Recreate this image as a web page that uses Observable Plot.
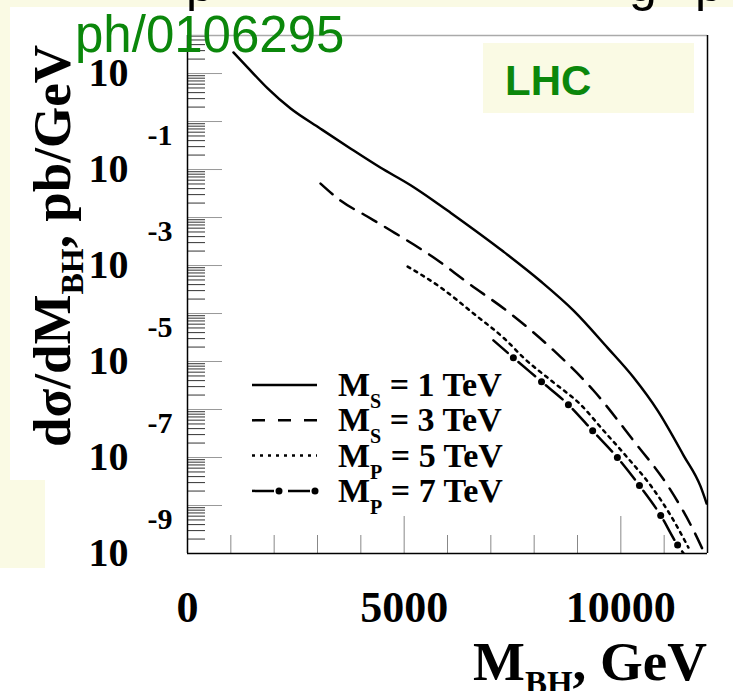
<!DOCTYPE html>
<html><head><meta charset="utf-8">
<script src="https://cdn.jsdelivr.net/npm/d3@7"></script>
<script src="https://cdn.jsdelivr.net/npm/@observablehq/plot@0.6"></script>
<style>
html,body{margin:0;padding:0;background:#fff;}
#wrap{position:relative;width:733px;height:691px;overflow:hidden;}
</style></head><body><div id="wrap"></div>
<script>
// ---- data ----
const xMS1 = [1060, 1390, 1850, 2380, 3070, 3760, 4450, 5150, 5680, 6070, 7290, 8150, 8910, 9690, 10290, 10850, 11450, 11840, 11980];
const yMS1 = [27.5, 13.3, 4.9, 1.86, 0.71, 0.275, 0.11, 0.047, 0.0224, 0.0126, 1.95e-3, 4.7e-4, 1.15e-4, 1.95e-5, 4.7e-6, 9.5e-7, 1.1e-7, 2.5e-8, 1.1e-8];
const xMS3 = [3070, 3530, 4150, 4690, 5220, 5680, 6460, 7450, 8450, 9370, 10290, 11080, 11680, 11910];
const yMS3 = [0.051, 0.0226, 0.0105, 5.37e-3, 2.74e-3, 1.47e-3, 4.42e-4, 1.0e-4, 1.7e-5, 2.49e-6, 2.26e-7, 2.61e-8, 3.0e-9, 1.1e-9];
const xMP5 = [5080, 5840, 6600, 7360, 7750, 8420, 9070, 9600, 10150, 10690, 11150, 11560];
const yMP5 = [9.5e-4, 3.5e-4, 1.0e-4, 2.74e-5, 1.21e-5, 3.83e-6, 1.27e-6, 3.65e-7, 1.0e-7, 2.6e-8, 6.2e-9, 1.33e-9];
const xMP7 = [7060, 7520, 8170, 8790, 9350, 9920, 10430, 10920, 11310, 11450];
const yMP7 = [2.75e-5, 1.2e-5, 3.8e-6, 1.26e-6, 3.6e-7, 1.0e-7, 2.6e-8, 6.2e-9, 1.5e-9, 1.0e-9];

const seriesNames = [["M", "S", " = 1 TeV"], ["M", "S", " = 3 TeV"], ["M", "P", " = 5 TeV"], ["M", "P", " = 7 TeV"]];
const yExponents = [-9, -7, -5, -3, -1];
const yLabelDecades = [-9, -7, -5, -3, -1, 1];
const xLabels = [0, 5000, 10000];
const xMajorTicks = [5000, 10000];
const xMinorTicks = [1000, 2000, 3000, 4000, 6000, 7000, 8000, 9000, 11000];
const yDomain = [1e-9, 62];
const xDomain = [0, 12000];

// ---- derived tables ----
const tbl = (xs, ys) => xs.map((x, i) => ({x, y: ys[i]}));
const ms1 = tbl(xMS1, yMS1), ms3 = tbl(xMS3, yMS3), mp5 = tbl(xMP5, yMP5), mp7 = tbl(xMP7, yMP7);
const decades = d3.range(-9, 2);
const yMajorTicks = decades.map(e => Math.pow(10, e));
const yMinorTicks = decades.flatMap(e => d3.range(2, 10).map(k => k * Math.pow(10, e))).filter(v => v < yDomain[1]);

const serif = "'Liberation Serif', 'Times New Roman', serif";
const sans = "'Liberation Sans', Arial, sans-serif";
const green = "#0b870b";

const chart = Plot.plot({
  width: 733, height: 691,
  marginLeft: 187, marginRight: 26, marginTop: 35, marginBottom: 138,
  style: {background: "transparent", fontFamily: serif, overflow: "visible", color: "black"},
  x: {domain: xDomain},
  y: {type: "log", domain: yDomain},
  marks: [
    Plot.axisY(yMinorTicks, {tickSize: 18, dx: 18, fill: "none", stroke: "#333", label: null}),
    Plot.axisY(yMajorTicks, {tickSize: 35, dx: 35, fill: "none", stroke: "#999", label: null}),
    Plot.axisY(yLabelDecades.map(e => Math.pow(10, e)), {tickSize: 0, tickPadding: 59, tickFormat: () => "10", fontSize: 40, fontWeight: "bold", dy: 0, label: null}),
    Plot.text(yExponents, {x: 0, y: d => Math.pow(10, d), text: d => String(d), dx: -40, dy: -34, textAnchor: "start", fontSize: 30, fontWeight: "bold", fill: "black"}),
    Plot.axisX(xMinorTicks, {tickSize: 18, dy: -18, fill: "none", stroke: "#888", label: null}),
    Plot.axisX(xMajorTicks, {tickSize: 37, dy: -37, fill: "none", stroke: "#888", label: null}),
    Plot.axisX(xLabels, {tickSize: 0, tickPadding: 37, tickFormat: d => String(d), fontSize: 44, fontWeight: "bold", label: null}),
    Plot.ruleY([yDomain[1]], {stroke: "#aaa", strokeWidth: 1.5}),
    Plot.ruleX(xDomain, {stroke: "black", strokeWidth: 1.5}),
    Plot.ruleY([yDomain[0]], {stroke: "black", strokeWidth: 1.5}),
    Plot.line(ms1, {x: "x", y: "y", stroke: "black", strokeWidth: 2.5, curve: "monotone-x", clip: true}),
    Plot.line(ms3, {x: "x", y: "y", stroke: "black", strokeWidth: 2.5, strokeDasharray: "16,10", curve: "monotone-x", clip: true}),
    Plot.line(mp5, {x: "x", y: "y", stroke: "black", strokeWidth: 2.5, strokeDasharray: "3,5", curve: "monotone-x", clip: true}),
    Plot.line(mp7, {x: "x", y: "y", stroke: "black", strokeWidth: 2.5, strokeDasharray: "22,14", strokeDashoffset: 3, curve: "monotone-x", clip: true}),
    Plot.dot(mp7.slice(1, -1), {x: "x", y: "y", r: 3.5, fill: "black", stroke: "none"})
  ]
});

document.getElementById("wrap").appendChild(chart);
const svg = d3.select(chart);

// background decorations (slide remnants)
const bg = svg.insert("g", ":first-child");
const pale = "#fafae4";
bg.append("rect").attr("x", 0).attr("y", 0).attr("width", 733).attr("height", 7).attr("fill", pale);
bg.append("rect").attr("x", 0).attr("y", 0).attr("width", 10).attr("height", 480).attr("fill", pale);
bg.append("rect").attr("x", 0).attr("y", 480).attr("width", 45).attr("height", 88).attr("fill", pale);
bg.append("rect").attr("x", 483).attr("y", 43).attr("width", 211).attr("height", 70).attr("fill", pale);

const fg = svg.append("g").attr("text-anchor", "start");
// fragments of a slide title above the picture (only descenders visible)
[["p", 186], ["g", 629], ["p", 695]].forEach(([ch, x]) =>
  fg.append("text").attr("x", x).attr("y", 1).attr("font-family", sans).attr("font-size", 50)
    .attr("fill", "black").attr("text-anchor", "start").text(ch));
// LHC label
fg.append("text").attr("x", 505).attr("y", 95).attr("font-family", sans).attr("font-weight", "bold")
  .attr("font-size", 42).attr("fill", green).attr("text-anchor", "start").text("LHC");
// arXiv id overlay
fg.append("text").attr("x", 75).attr("y", 52).attr("font-family", sans)
  .attr("font-size", 51).attr("fill", green).attr("text-anchor", "start").text("ph/0106295");

// x-axis title
const xt = fg.append("text").attr("x", 707).attr("y", 680).attr("text-anchor", "end")
  .attr("font-family", serif).attr("font-weight", "bold").attr("font-size", 55).attr("fill", "black");
xt.append("tspan").text("M");
xt.append("tspan").attr("font-size", 33).attr("dy", 14).text("BH");
xt.append("tspan").attr("dy", -14).text(", GeV");

// y-axis title
const yt = fg.append("text").attr("transform", "translate(70,447) rotate(-90)").attr("text-anchor", "start")
  .attr("font-family", serif).attr("font-weight", "bold").attr("font-size", 53).attr("fill", "black");
yt.append("tspan").text("dσ/dM");
yt.append("tspan").attr("font-size", 32).attr("dy", 13).text("BH");
yt.append("tspan").attr("dy", -13).text(", pb/GeV");

// legend
const leg = fg.append("g");
const styles = [
  {dash: null, dots: false},
  {dash: "13,13", dots: false},
  {dash: "3,5", dots: false},
  {dash: "22,14", dots: true}
];
seriesNames.forEach((nm, i) => {
  const cy = 385 + i * 35.3;
  const st = styles[i];
  const ln = leg.append("line").attr("x1", 252).attr("x2", 317).attr("y1", cy).attr("y2", cy)
    .attr("stroke", "black").attr("stroke-width", 2.5);
  if (st.dash) ln.attr("stroke-dasharray", st.dash);
  if (st.dots) {
    [279, 315].forEach(cx => leg.append("circle").attr("cx", cx).attr("cy", cy).attr("r", 3.5).attr("fill", "black"));
  }
  const t = leg.append("text").attr("x", 338).attr("y", cy + 11).attr("text-anchor", "start")
    .attr("font-family", serif).attr("font-weight", "bold").attr("font-size", 34).attr("fill", "black");
  t.append("tspan").text(nm[0]);
  t.append("tspan").attr("font-size", 20).attr("dy", 12).text(nm[1]);
  t.append("tspan").attr("dy", -12).text(nm[2]);
});
</script>
</body></html>
